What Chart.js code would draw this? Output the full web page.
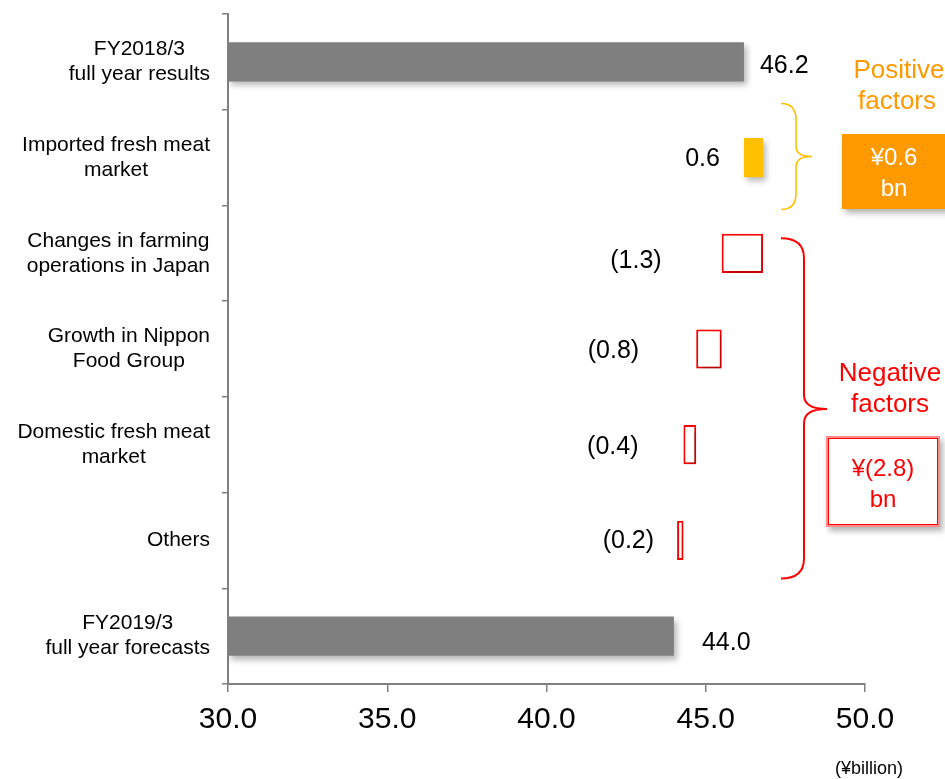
<!DOCTYPE html>
<html>
<head>
<meta charset="utf-8">
<script src="https://cdn.jsdelivr.net/npm/chart.js@4/dist/chart.umd.min.js"></script>
<style>
  html, body { margin: 0; padding: 0; background: #fff; }
  #wrap { width: 945px; height: 779px; position: relative; }
</style>
</head>
<body>
<div id="wrap"><canvas id="c" width="945" height="779"></canvas></div>
<script>
// Operating profit bridge, FY2018/3 results to FY2019/3 forecasts (¥billion)
const categories = [
  ['FY2018/3', 'full year results'],
  ['Imported fresh meat', 'market'],
  ['Changes in farming', 'operations in Japan'],
  ['Growth in Nippon', 'Food Group'],
  ['Domestic fresh meat', 'market'],
  ['Others'],
  ['FY2019/3', 'full year forecasts']
];
const startValue = 46.2;
const factorChanges = [0.6, -1.3, -0.8, -0.4, -0.2];
const endValue = 44.0;
const positiveTotal = 0.6;
const negativeTotal = -2.8;
const xTicks = [30.0, 35.0, 40.0, 45.0, 50.0];

// label placement relative to each bar (px): gap from bar edge and vertical nudge
const labelGap = [16, 24, 60, 57, 45, 23, 28];
const labelNudge = [4, 2, 8, 2, 2, 1, 7];

const FONT = "'Liberation Sans', Arial, Helvetica, sans-serif";
Chart.defaults.font.family = FONT;

const GREY = '#7F7F7F';
const GOLD = '#FFC000';
const ORANGE = '#FF9900';
const RED = '#FF0000';

// floating bars: totals start at axis minimum, factors chain from the running total
const axisMin = xTicks[0];
const bars = [[axisMin, startValue]];
let running = startValue;
factorChanges.forEach(v => {
  const next = +(running + v).toFixed(1);
  bars.push([running, next]);
  running = next;
});
bars.push([axisMin, endValue]);

const fills = [GREY, ...factorChanges.map(v => v > 0 ? GOLD : '#FFFFFF'), GREY];
const borders = [GREY, ...factorChanges.map(v => v > 0 ? GOLD : RED), GREY];
const borderWidths = [0, ...factorChanges.map(v => v > 0 ? 0 : 2), 0];

const valueText = [
  startValue.toFixed(1),
  ...factorChanges.map(v => v > 0 ? v.toFixed(1) : '(' + Math.abs(v).toFixed(1) + ')'),
  endValue.toFixed(1)
];

const shadowPlugin = {
  id: 'barShadow',
  beforeDatasetsDraw(chart) {
    const c = chart.ctx;
    c.save();
    c.shadowColor = 'rgba(0,0,0,0.28)';
    c.shadowBlur = 6;
    c.shadowOffsetX = 3;
    c.shadowOffsetY = 4;
  },
  afterDatasetsDraw(chart) {
    chart.ctx.restore();
  }
};

function drawBrace(c, x0, xMid, xTip, yTop, yTip, yBot, rEnd, rTip) {
  c.beginPath();
  c.moveTo(x0, yTop);
  c.quadraticCurveTo(xMid, yTop, xMid, yTop + rEnd);
  c.lineTo(xMid, yTip - rTip);
  c.quadraticCurveTo(xMid, yTip, xTip, yTip);
  c.quadraticCurveTo(xMid, yTip, xMid, yTip + rTip);
  c.lineTo(xMid, yBot - rEnd);
  c.quadraticCurveTo(xMid, yBot, x0, yBot);
  c.stroke();
}

const annotationPlugin = {
  id: 'annotations',
  afterDraw(chart) {
    const c = chart.ctx;
    const y = chart.scales.y;
    const meta = chart.getDatasetMeta(0);

    // category labels: block right-aligned to the axis, lines centred within the block
    c.save();
    c.font = '21px ' + FONT;
    c.fillStyle = '#000';
    c.textBaseline = 'middle';
    c.textAlign = 'center';
    const labelRight = y.right - 18;
    const lineH = 25;
    categories.forEach((lines, i) => {
      const cy = y.getPixelForValue(i);
      const w = Math.max(...lines.map(s => c.measureText(s).width));
      const cx = labelRight - w / 2;
      lines.forEach((s, k) => {
        c.fillText(s, cx, cy + (k - (lines.length - 1) / 2) * lineH);
      });
    });
    c.restore();

    // value labels next to each bar
    c.save();
    c.font = '25px ' + FONT;
    c.fillStyle = '#000';
    c.textBaseline = 'middle';
    meta.data.forEach((bar, i) => {
      const left = Math.min(bar.x, bar.base);
      const right = Math.max(bar.x, bar.base);
      const isTotal = i === 0 || i === meta.data.length - 1;
      if (isTotal) {
        c.textAlign = 'left';
        c.fillText(valueText[i], right + labelGap[i], bar.y + labelNudge[i]);
      } else {
        c.textAlign = 'right';
        c.fillText(valueText[i], left - labelGap[i], bar.y + labelNudge[i]);
      }
    });
    c.restore();

    // positive factors: brace, caption and total box
    c.save();
    c.lineWidth = 1.6;
    c.strokeStyle = GOLD;
    const pTop = y.getPixelForValue(1) - 54;
    const pBot = y.getPixelForValue(1) + 52;
    drawBrace(c, 781, 796, 812, pTop, (pTop + pBot) / 2, pBot, 16, 10);

    c.font = '26px ' + FONT;
    c.fillStyle = ORANGE;
    c.textAlign = 'center';
    c.textBaseline = 'middle';
    c.fillText('Positive', 899, 71);
    c.fillText('factors', 897, 102);

    c.save();
    c.shadowColor = 'rgba(0,0,0,0.3)';
    c.shadowBlur = 6;
    c.shadowOffsetX = 3;
    c.shadowOffsetY = 4;
    c.fillStyle = ORANGE;
    c.fillRect(842, 134, 110, 75);
    c.restore();
    c.fillStyle = '#FFFFFF';
    c.font = '24px ' + FONT;
    c.fillText('¥' + positiveTotal.toFixed(1), 894, 158);
    c.fillText('bn', 894, 189);
    c.restore();

    // negative factors: brace, caption and total box
    c.save();
    c.lineWidth = 2;
    c.strokeStyle = RED;
    const nTop = y.getPixelForValue(2) - 15;
    const nBot = y.getPixelForValue(5) + 38;
    drawBrace(c, 781, 804, 827, nTop, 409, nBot, 20, 14);

    c.font = '26px ' + FONT;
    c.fillStyle = RED;
    c.textAlign = 'center';
    c.textBaseline = 'middle';
    c.fillText('Negative', 890, 374);
    c.fillText('factors', 890, 405);

    c.save();
    c.shadowColor = 'rgba(0,0,0,0.3)';
    c.shadowBlur = 6;
    c.shadowOffsetX = 3;
    c.shadowOffsetY = 4;
    c.fillStyle = '#FFFFFF';
    c.fillRect(826, 436, 114, 91);
    c.restore();
    c.lineWidth = 3;
    c.strokeStyle = 'rgba(255,0,0,0.45)';
    c.strokeRect(827.5, 437.5, 111, 88);
    c.lineWidth = 1;
    c.strokeStyle = RED;
    c.strokeRect(828.5, 438.5, 109, 86);
    c.fillStyle = RED;
    c.font = '24px ' + FONT;
    c.fillText('¥(' + Math.abs(negativeTotal).toFixed(1) + ')', 883, 469);
    c.fillText('bn', 883, 500);
    c.restore();

    // unit note
    c.save();
    c.font = '18px ' + FONT;
    c.fillStyle = '#000';
    c.textAlign = 'center';
    c.textBaseline = 'middle';
    c.fillText('(¥billion)', 869, 769);
    c.restore();
  }
};

new Chart(document.getElementById('c'), {
  type: 'bar',
  data: {
    labels: categories,
    datasets: [{
      data: bars,
      backgroundColor: fills,
      borderColor: borders,
      borderWidth: borderWidths,
      borderSkipped: false,
      categoryPercentage: 1,
      barPercentage: 0.41
    }]
  },
  options: {
    indexAxis: 'y',
    responsive: false,
    animation: false,
    devicePixelRatio: 1,
    layout: { padding: { top: 14, right: 80, bottom: 31, left: 0 } },
    plugins: {
      legend: { display: false },
      tooltip: { enabled: false },
      title: { display: false }
    },
    scales: {
      x: {
        type: 'linear',
        min: xTicks[0],
        max: xTicks[xTicks.length - 1],
        afterBuildTicks(scale) {
          scale.ticks = xTicks.map(v => ({ value: v }));
        },
        ticks: {
          callback: v => Number(v).toFixed(1),
          font: { size: 30 },
          color: '#000',
          padding: 10,
          maxRotation: 0
        },
        grid: {
          drawOnChartArea: false,
          drawTicks: true,
          tickLength: 8,
          color: '#808080',
          lineWidth: 1.5
        },
        border: { color: '#808080', width: 2 }
      },
      y: {
        type: 'category',
        grid: {
          drawOnChartArea: false,
          drawTicks: true,
          tickLength: 6,
          color: '#808080',
          lineWidth: 1.5,
          offset: true
        },
        border: { color: '#808080', width: 2 },
        // category names are drawn by the annotation plugin
        ticks: { callback: () => '', font: { size: 1 }, padding: 12 },
        afterFit(scale) { scale.width = 228; }
      }
    }
  },
  plugins: [shadowPlugin, annotationPlugin]
});
</script>
</body>
</html>
